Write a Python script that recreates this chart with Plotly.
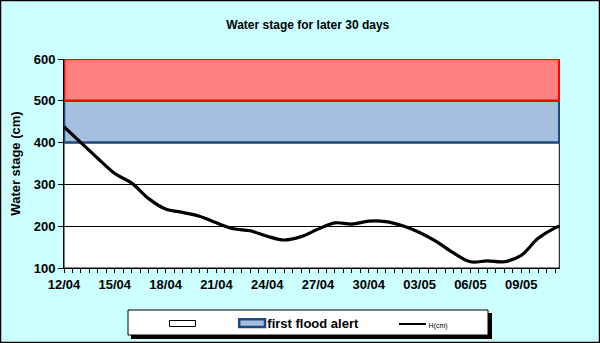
import plotly.graph_objects as go

# ---- data ----
dates = ["2015-04-%02d" % d for d in range(12, 31)] + ["2015-05-%02d" % d for d in range(1, 12)] + ["2015-05-11 06:00"]
h_cm = [438, 400, 362, 326, 303, 266, 241, 233, 224, 208, 194, 189, 176, 167, 175,
        193, 208, 205, 212, 211, 201, 185, 163, 136, 115, 117, 115, 130, 171, 196, 200]
axis_min = 100
first_alert = 400   # first flood alert lower bound
second_alert = 500  # upper alert lower bound
axis_max = 600
legend_names = ["\u00a0" * 7, "first flood alert" + "\u00a0" * 7,
                '<span style="font-size:7px;font-weight:normal">H(cm)</span>']

FONT = "Liberation Sans, Arial, sans-serif"
BLUE_FILL, BLUE_LINE = "#A7BFDE", "#1F497D"
RED_FILL, RED_LINE = "#FF8080", "#FF0000"
x0, x1 = dates[0], dates[-1]

def band(lo, hi):
    return [x0, x1, x1, x0, x0], [lo, lo, hi, hi, lo]

fig = go.Figure()
bx, by = band(axis_min, first_alert)
fig.add_trace(go.Scatter(x=bx, y=by, mode="lines", fill="toself",
                         fillcolor="rgba(255,255,255,0)", line=dict(color="black", width=1),
                         showlegend=False, hoverinfo="skip"))
bx, by = band(first_alert, second_alert)
fig.add_trace(go.Scatter(x=bx, y=by, mode="lines", fill="toself",
                         fillcolor=BLUE_FILL, line=dict(color=BLUE_LINE, width=2.5),
                         showlegend=False, hoverinfo="skip"))
bx, by = band(second_alert, axis_max)
fig.add_trace(go.Scatter(x=bx, y=by, mode="lines", fill="toself",
                         fillcolor=RED_FILL, line=dict(color=RED_LINE, width=2.5),
                         showlegend=False, hoverinfo="skip"))
fig.add_trace(go.Scatter(x=dates, y=h_cm, mode="lines",
                         line=dict(color="black", width=3.2, shape="spline", smoothing=1.0),
                         showlegend=False, name="H(cm)"))
# legend entries (text only; icons drawn as shapes below)
for nm in legend_names:
    fig.add_trace(go.Scatter(x=[None], y=[None], mode="lines",
                             line=dict(color="rgba(0,0,0,0)", width=1), name=nm))

# plot-area geometry in px (for paper-coord decorations)
L, R, T, B, W, H = 64, 40, 59, 75, 600, 343
pw, ph = W - L - R, H - T - B
def px(x): return (x - L) / pw
def py(y): return (H - B - y) / ph

def prect(xa, ya, xb, yb, **kw):
    return dict(type="rect", xref="paper", yref="paper", x0=px(xa), x1=px(xb),
                y0=py(yb), y1=py(ya), layer="above", **kw)

shapes = [
    prect(0.5, 0.5, 599.5, 342.5, line=dict(color="black", width=1.5)),
    prect(131, 313, 492, 339, fillcolor="black", line=dict(width=0)),
    prect(128, 310, 488, 335, fillcolor="white", line=dict(color="black", width=1)),
    prect(169.5, 320.5, 195.5, 326.5, fillcolor="white", line=dict(color="black", width=1)),
    prect(239.2, 319.2, 265, 327, fillcolor=BLUE_FILL, line=dict(color=BLUE_LINE, width=2.5)),
    dict(type="line", xref="paper", yref="paper", x0=px(399), x1=px(426), y0=py(324), y1=py(324),
         line=dict(color="black", width=2), layer="above"),
]

fig.update_layout(
    width=W, height=H,
    margin=dict(l=L, r=R, t=T, b=B, pad=0, autoexpand=False),
    paper_bgcolor="#CCFFFF", plot_bgcolor="white",
    font=dict(family=FONT, size=13, color="black", weight="bold"),
    title=dict(text="Water stage for later 30 days", x=0.513, xref="container", xanchor="center",
               y=1 - 25 / H, yref="container", yanchor="middle",
               font=dict(family=FONT, size=12, weight="bold", color="black")),
    showlegend=True,
    legend=dict(orientation="h", x=157 / W, xref="container", xanchor="left",
                y=1 - 323 / H, yref="container", yanchor="middle",
                bgcolor="rgba(0,0,0,0)", borderwidth=0,
                font=dict(family=FONT, size=13, weight="bold", color="black"),
                traceorder="normal"),
    shapes=shapes,
    hovermode=False,
)
fig.update_xaxes(
    type="date", range=["2015-04-12", "2015-05-11 07:00"], automargin=False,
    tickformat="%d/%m", dtick=3 * 86400000, tick0="2015-04-12",
    ticks="outside", ticklen=4, tickcolor="black", tickwidth=1,
    minor=dict(dtick=43200000, tick0="2015-04-12", ticks="outside", ticklen=4, tickcolor="black"),
    showgrid=False, showline=True, linecolor="black", linewidth=1, zeroline=False,
    tickfont=dict(family=FONT, size=13, weight="bold"),
)
fig.update_yaxes(
    range=[axis_min, axis_max], dtick=100, tick0=0, automargin=False,
    ticks="outside", ticklen=5, tickcolor="black",
    showgrid=True, gridcolor="black", gridwidth=1, zeroline=False,
    showline=True, linecolor="black", linewidth=1,
    tickfont=dict(family=FONT, size=13, weight="bold"),
    title=dict(text="Water stage (cm)", standoff=10, font=dict(family=FONT, size=13, weight="bold")),
)

fig.write_html("out.html")
